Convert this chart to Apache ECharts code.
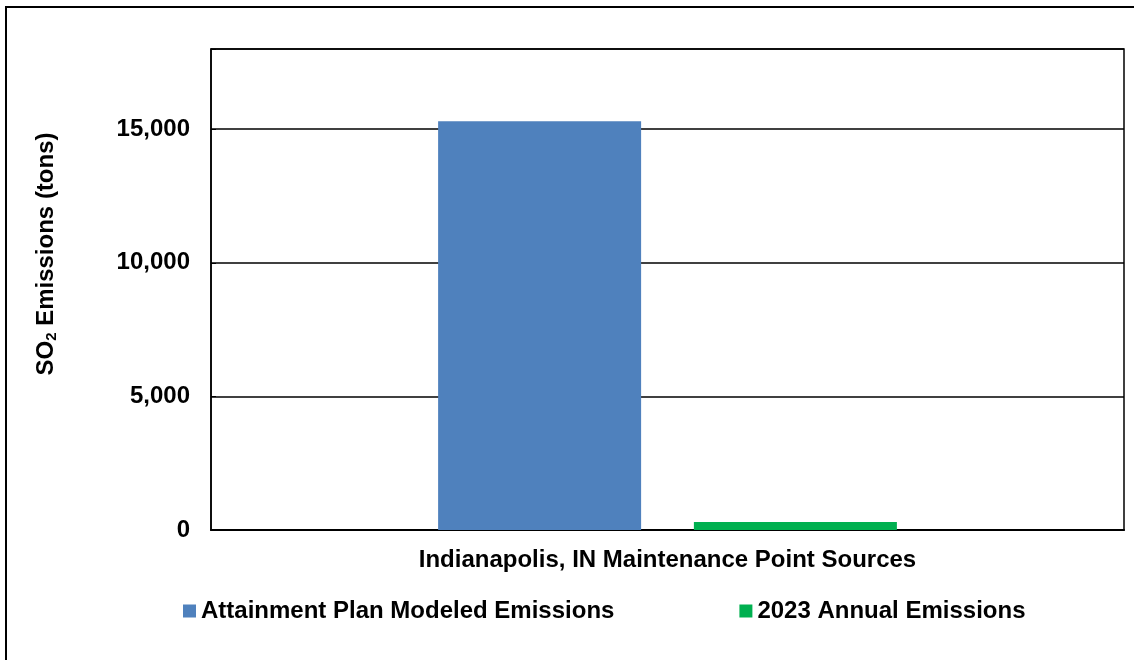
<!DOCTYPE html>
<html>
<head>
<meta charset="utf-8">
<script src="https://cdn.jsdelivr.net/npm/echarts@6/dist/echarts.min.js"></script>
<style>html,body{margin:0;padding:0;background:#fff}#c{width:1134px;height:660px}</style>
</head>
<body>
<div id="c"></div>
<script>
var categories = ['Indianapolis, IN Maintenance Point Sources'];
var seriesNames = ['Attainment Plan Modeled Emissions', '2023 Annual Emissions'];
var attainmentValues = [15300];
var annualValues = [300];
var yTicks = [0, 5000, 10000, 15000];

var FONT = '"Liberation Sans", Arial, sans-serif';
var chart = echarts.init(document.getElementById('c'));
chart.setOption({
  animation: false,
  backgroundColor: '#fff',
  textStyle: {fontFamily: FONT},
  graphic: [
    {type: 'rect', shape: {x: 6, y: 7, width: 1140, height: 700}, style: {fill: 'none', stroke: '#000', lineWidth: 2}, silent: true},
    {type: 'text', x: 46, y: 254, rotation: Math.PI / 2, style: {
      text: '{a|SO}{s|2}{a| Emissions (tons)}', align: 'center', verticalAlign: 'middle',
      rich: {a: {fontSize: 24, fontWeight: 'bold', fontFamily: FONT, fill: '#000'},
             s: {fontSize: 15, fontWeight: 'bold', fontFamily: FONT, fill: '#000', padding: [12, 0, 0, 0]}}
    }}
  ],
  grid: {left: 211, top: 49, right: 10, bottom: 130, show: true, borderColor: '#000', borderWidth: 1.5, containLabel: false},
  legend: {
    left: 178, top: 594, itemWidth: 13, itemHeight: 13, itemGap: 125, icon: 'rect',
    textStyle: {fontSize: 24, fontWeight: 'bold', color: '#000', fontFamily: FONT, padding: [0, 0, 0, 0]},
    data: seriesNames
  },
  xAxis: {
    type: 'category', data: categories,
    axisLine: {lineStyle: {color: '#000', width: 2}}, axisTick: {show: false},
    axisLabel: {fontSize: 24, fontWeight: 'bold', color: '#000', margin: 18, fontFamily: FONT}
  },
  yAxis: {
    type: 'value', min: 0, max: 18000, interval: 5000,
    axisLine: {show: true, lineStyle: {color: '#000', width: 1.5}},
    axisTick: {show: true, length: 5, inside: true, lineStyle: {color: '#000'}},
    splitLine: {lineStyle: {color: '#000', width: 1.5}},
    axisLabel: {fontSize: 24, fontWeight: 'bold', color: '#000', margin: 21, fontFamily: FONT,
      formatter: function (v) { return yTicks.indexOf(v) >= 0 ? v.toLocaleString('en-US') : ''; }}
  },
  series: [
    {name: seriesNames[0], type: 'bar', data: attainmentValues, barWidth: 203, barGap: '26%', itemStyle: {color: '#4F81BD'}},
    {name: seriesNames[1], type: 'bar', data: annualValues, barWidth: 203, itemStyle: {color: '#00B050'}}
  ]
});
</script>
</body>
</html>
